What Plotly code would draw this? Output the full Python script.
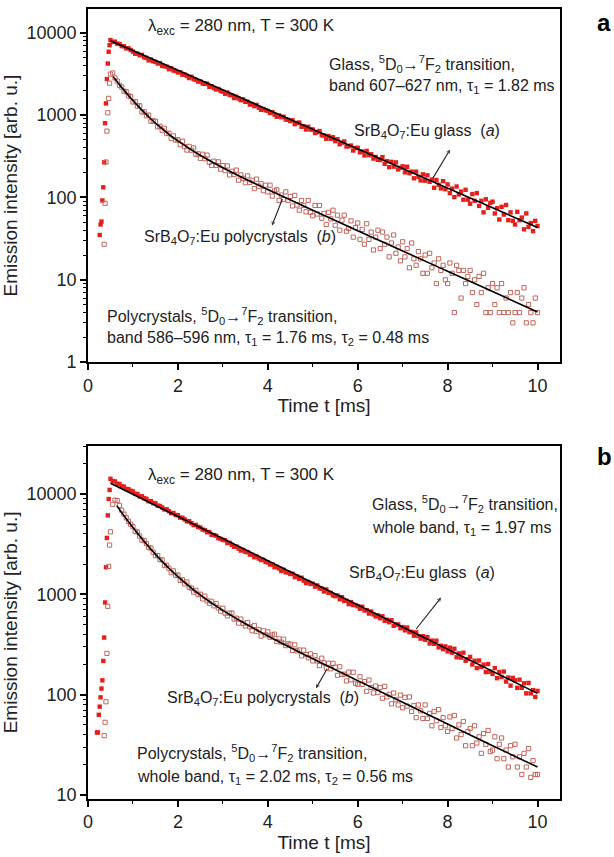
import plotly.graph_objects as go

# ---------------- data ----------------
t_ms = [0.50,0.55,0.60,0.65,0.70,0.75,0.80,0.85,0.90,0.95,
        1.00,1.05,1.10,1.15,1.20,1.25,1.30,1.35,1.40,1.45,
        1.50,1.55,1.60,1.65,1.70,1.75,1.80,1.85,1.90,1.95,
        2.00,2.05,2.10,2.15,2.20,2.25,2.30,2.35,2.40,2.45,
        2.50,2.55,2.60,2.65,2.70,2.75,2.80,2.85,2.90,2.95,
        3.00,3.05,3.10,3.15,3.20,3.25,3.30,3.35,3.40,3.45,
        3.50,3.55,3.60,3.65,3.70,3.75,3.80,3.85,3.90,3.95,
        4.00,4.05,4.10,4.15,4.20,4.25,4.30,4.35,4.40,4.45,
        4.50,4.55,4.60,4.65,4.70,4.75,4.80,4.85,4.90,4.95,
        5.00,5.05,5.10,5.15,5.20,5.25,5.30,5.35,5.40,5.45,
        5.50,5.55,5.60,5.65,5.70,5.75,5.80,5.85,5.90,5.95,
        6.00,6.05,6.10,6.15,6.20,6.25,6.30,6.35,6.40,6.45,
        6.50,6.55,6.60,6.65,6.70,6.75,6.80,6.85,6.90,6.95,
        7.00,7.05,7.10,7.15,7.20,7.25,7.30,7.35,7.40,7.45,
        7.50,7.55,7.60,7.65,7.70,7.75,7.80,7.85,7.90,7.95,
        8.00,8.05,8.10,8.15,8.20,8.25,8.30,8.35,8.40,8.45,
        8.50,8.55,8.60,8.65,8.70,8.75,8.80,8.85,8.90,8.95,
        9.00,9.05,9.10,9.15,9.20,9.25,9.30,9.35,9.40,9.45,
        9.50,9.55,9.60,9.65,9.70,9.75,9.80,9.85,9.90,9.95,
        10.00]

# panel a, glass (a): rising edge + decay
glass_a_rise_t = [0.26,0.28,0.30,0.32,0.34,0.36,0.38,0.40,0.42,0.44,0.46,0.48]
glass_a_rise = [35,47,51,92,133,267,800,1390,2750,4240,5900,7080]
glass_a = [8180,7730,7820,7390,7330,6920,6870,6490,6500,6200,
           5915,5580,5600,5337,5408,5050,4965,4630,4750,4525,
           4448,4239,4298,3970,3945,3878,3617,3708,3498,3439,
           3311,3322,3101,3113,2998,2825,2926,2732,2686,2559,
           2569,2421,2407,2415,2207,2239,2134,2054,2083,1965,
           1932,1820,1886,1760,1749,1614,1672,1594,1518,1555,
           1453,1458,1346,1366,1288,1333,1232,1161,1190,1146,
           1126,1062,1088,1016,957,992,946,958,885,880,
           847,867,777,804,814,723,733,670,722,668,
           670,606,621,642,570,566,517,559,516,539,
           484,510,443,464,479,417,419,428,372,398,
           402,354,362,324,368,327,335,297,311,287,
           285,309,256,276,234,271,237,267,219,230,
           239,202,236,197,206,171,206,178,161,191,
           160,186,155,165,131,163,143,129,158,126,
           144,113,128,101,136,109,118,94,124,94,
           84,110,91,113,79,91,66,95,75,86,
           89,64,74,54,77,62,81,53,66,52,
           47,67,53,57,41,64,44,49,39,52,
           45]

# panel a, polycrystals (b)
poly_a_rise_t = [0.36,0.38,0.40,0.42,0.44,0.46,0.48]
poly_a_rise = [27,85,270,640,1070,1600,2450]
poly_a = [3150,3258,2839,2594,2303,2196,1955,1925,1720,1681,
          1445,1460,1286,1302,1093,1101,984,1002,845,857,
          842,721,733,655,693,598,604,520,560,499,
          502,438,482,415,377,418,375,400,333,340,
          299,335,296,327,268,245,276,246,271,221,
          244,212,242,188,208,190,215,162,188,171,
          151,183,152,162,128,167,137,147,121,141,
          117,141,104,120,124,92,107,95,117,92,
          103,79,106,81,70,92,80,67,92,66,
          60,80,63,80,56,64,47,66,55,70,
          46,61,40,53,61,39,42,52,33,43,
          49,31,41,27,48,31,38,23,33,40,
          24,38,27,33,19,28,35,21,25,17,
          29,19,24,14,28,18,15,22,18,12,
          20,12,21,14,16,9,18,13,15,10,
          9,16,12,4,15,13,6,13,9,11,
          13,7,10,5,11,7,12,4,8,4,
          9,5,8,4,9,4,6,4,7,3,
          4,7,4,6,8,3,5,4,3,6,
          4]

# panel b, glass (a)
glass_b_rise_t = [0.20,0.22,0.24,0.26,0.28,0.30,0.32,0.34,0.36,0.38,0.40,0.42,0.44,0.46,0.48]
glass_b_rise = [42,42,63,76,94,115,139,217,371,830,1860,3650,6130,8920,11000]
glass_b = [14194,13464,13369,12680,12593,11939,11859,11241,11169,10787,
           10615,10059,9996,9470,9501,9089,8946,8472,8503,8132,
           8083,7655,7610,7348,7025,7052,6743,6445,6473,6187,
           6152,5823,5791,5590,5342,5366,5129,4901,4925,4705,
           4634,4428,4361,4165,4187,3919,3899,3841,3632,3577,
           3488,3471,3247,3265,3119,2977,2995,2860,2730,2776,
           2651,2638,2493,2483,2345,2384,2276,2196,2209,2109,
           2078,1984,1996,1866,1878,1812,1710,1759,1661,1654,
           1596,1605,1485,1510,1427,1465,1371,1294,1330,1270,
           1277,1194,1227,1148,1142,1068,1119,1036,1032,975,
           960,976,894,937,859,864,799,838,784,780,
           761,719,753,691,695,643,674,631,602,618,
           578,605,544,559,528,552,486,500,502,460,
           472,438,467,420,423,387,418,384,362,383,
           352,375,324,346,321,345,296,307,284,303,
           270,294,262,287,236,258,234,262,218,226,
           238,200,218,184,219,189,199,168,202,169,
           161,184,146,168,150,170,135,148,123,147,
           139,117,141,117,130,103,131,103,111,95,
           109]

# panel b, polycrystals (b)
poly_b_rise_t = [0.36,0.38,0.40,0.42,0.44,0.46,0.48]
poly_b_rise = [39,53,85,258,760,1900,3100]
poly_b = [4200,7900,8700,8600,7700,6900,6300,5800,5350,5000,
          4729,4253,4188,3813,3473,3432,3198,2921,2895,2625,
          2431,2440,2221,2210,1935,1952,1820,1644,1715,1541,
          1560,1376,1397,1271,1330,1179,1154,1053,1096,992,
          1004,901,959,862,815,853,768,811,732,679,
          727,650,610,648,652,567,579,517,567,514,
          484,524,475,434,490,428,446,384,434,395,
          423,374,393,401,338,360,334,357,308,321,
          319,276,314,273,279,244,278,251,233,255,
          217,245,217,195,231,207,184,206,181,205,
          188,156,190,159,160,137,168,141,167,130,
          127,151,127,135,108,140,118,104,122,105,
          118,92,121,95,101,81,104,89,79,99,
          74,94,77,95,68,78,59,79,69,58,
          79,58,65,49,68,55,71,47,59,49,
          43,60,46,62,37,50,40,54,31,43,
          46,31,49,33,38,26,41,32,44,27,
          28,38,23,32,37,23,28,19,31,24,
          32,19,24,16,26,19,29,15,22,16,
          16]

# fitted curves
fit_glass_a_t = [0.5, 2, 4, 6, 8, 10]
fit_glass_a = [8000, 3510, 1170, 390, 130, 43.3]
fit_poly_a_t = [0.56,0.6,0.7,0.8,0.9,1.0,1.2,1.4,1.6,1.8,2.0,2.3,2.6,3.0,3.5,4.0,5,6,7,8,9,10]
fit_poly_a = [2940,2756,2350,2015,1737,1505,1150,899,719,586,487,379,302,230,168,125,70,39.5,22.4,12.7,7.19,4.07]
fit_glass_b_t = [0.5, 2, 4, 6, 8, 10]
fit_glass_b = [12790, 5974, 2165, 785, 284, 103]
fit_poly_b_t = [0.64,0.7,0.8,0.9,1.0,1.2,1.4,1.6,1.8,2.0,2.3,2.6,3.0,3.5,4.0,5,6,7,8,9,10]
fit_poly_b = [7662,7024,6095,5306,4636,3580,2811,2243,1820,1500,1154,913,692,509,385,228,138,84,51,31,19]

x_ticks = [0, 2, 4, 6, 8, 10]
x_minor = [1, 3, 5, 7, 9]
ya_ticks = [1, 10, 100, 1000, 10000]
yb_ticks = [10, 100, 1000, 10000]

# ---------------- layout geometry ----------------
W, H = 614, 857
ML, MR, MT, MB = 88, 54, 7, 58
PW = W - ML - MR
PH = H - MT - MB

def px(x):
    return (x - ML) / PW

def py(y):
    return (H - MB - y) / PH

FONT = "Liberation Sans, Arial, Helvetica, sans-serif"
TXT = "#222222"
RED = "#e3201b"
PINK = "#c0675d"

fig = go.Figure()

def add_panel(xa, ya, gt, gy, pt, pyv, fgt, fgy, fpt, fpy):
    fig.add_trace(go.Scatter(x=gt, y=gy, mode="markers", xaxis=xa, yaxis=ya,
                             marker=dict(symbol="square", size=4.4, color=RED, line=dict(width=0)),
                             showlegend=False, hoverinfo="skip"))
    fig.add_trace(go.Scatter(x=pt, y=pyv, mode="markers", xaxis=xa, yaxis=ya,
                             marker=dict(symbol="square-open", size=4.2, color=PINK, line=dict(width=1, color=PINK)),
                             showlegend=False, hoverinfo="skip"))
    fig.add_trace(go.Scatter(x=fgt, y=fgy, mode="lines", xaxis=xa, yaxis=ya,
                             line=dict(color="black", width=1.6), showlegend=False, hoverinfo="skip"))
    fig.add_trace(go.Scatter(x=fpt, y=fpy, mode="lines", xaxis=xa, yaxis=ya,
                             line=dict(color="black", width=1.6, shape="spline"), showlegend=False, hoverinfo="skip"))

add_panel("x", "y", glass_a_rise_t + t_ms, glass_a_rise + glass_a,
          poly_a_rise_t + t_ms, poly_a_rise + poly_a,
          fit_glass_a_t, fit_glass_a, fit_poly_a_t, fit_poly_a)
add_panel("x2", "y2", glass_b_rise_t + t_ms, glass_b_rise + glass_b,
          poly_b_rise_t + t_ms, poly_b_rise + poly_b,
          fit_glass_b_t, fit_glass_b, fit_poly_b_t, fit_poly_b)

top_dom = [py(361), 1.0]
bot_dom = [0.0, py(445)]

def xaxis_cfg(anchor):
    return dict(anchor=anchor, domain=[0, 1], range=[0, 10.5],
                tickvals=x_ticks, ticktext=[str(v) for v in x_ticks],
                ticks="outside", ticklen=6, tickwidth=1.5, tickcolor="black",
                minor=dict(ticks="outside", ticklen=3, tickwidth=1.2, tickcolor="black", tickvals=x_minor),
                showline=True, linecolor="black", linewidth=1.6, mirror=True,
                showgrid=False, zeroline=False,
                tickfont=dict(family=FONT, size=18, color=TXT),
                title=dict(text="Time t [ms]", font=dict(family=FONT, size=19, color=TXT), standoff=4))

def minor_vals(lo, hi):
    out = []
    d = 1
    while d <= hi:
        for k in range(2, 10):
            v = k * d
            if lo < v < hi:
                out.append(v)
        d *= 10
    return out

def yaxis_cfg(anchor, dom, rng, tv):
    return dict(anchor=anchor, domain=dom, type="log", range=rng,
                tickvals=tv, ticktext=[str(v) for v in tv],
                ticks="outside", ticklen=6, tickwidth=1.5, tickcolor="black",
                minor=dict(ticks="outside", ticklen=3, tickwidth=1.2, tickcolor="black",
                           tickvals=minor_vals(10 ** rng[0], 10 ** rng[1])),
                showline=True, linecolor="black", linewidth=1.6, mirror=True,
                showgrid=False, zeroline=False,
                tickfont=dict(family=FONT, size=18, color=TXT),
                title=dict(text="Emission intensity [arb. u.]", font=dict(family=FONT, size=19, color=TXT), standoff=6))

fig.update_layout(
    width=W, height=H,
    margin=dict(l=ML, r=MR, t=MT, b=MB),
    paper_bgcolor="white", plot_bgcolor="white",
    xaxis=xaxis_cfg("y"),
    yaxis=yaxis_cfg("x", top_dom, [0, 4.29], ya_ticks),
    xaxis2=xaxis_cfg("y2"),
    yaxis2=yaxis_cfg("x2", bot_dom, [0.96, 4.48], yb_ticks),
)

def label(text, x, y, size=16, anchor="left", bold=False):
    fig.add_annotation(text=("<b>%s</b>" % text) if bold else text,
                       x=px(x), y=py(y), xref="paper", yref="paper",
                       xanchor=anchor, yanchor="middle", showarrow=False,
                       font=dict(family=FONT, size=size, color=TXT if not bold else "black"))

def pointer(x0, y0, x1, y1):
    # thin pointer: head at (x0,y0) next to the label, tail at (x1,y1) on the data
    fig.add_annotation(text="", x=px(x0), y=py(y0), xref="paper", yref="paper",
                       ax=x1 - x0, ay=y1 - y0, axref="pixel", ayref="pixel",
                       showarrow=True, arrowhead=5, arrowsize=0.6, arrowwidth=1.1,
                       arrowcolor="#222222")

trans = "<sup>5</sup>D<sub>0</sub>→<sup>7</sup>F<sub>2</sub> transition,"

# panel a
label("λ<sub>exc</sub> = 280 nm, T = 300 K", 146, 25, size=17)
label("Glass, " + trans, 327, 62)
label("band 607–627 nm, τ<sub>1</sub> = 1.82 ms", 327, 85)
label("SrB<sub>4</sub>O<sub>7</sub>:Eu glass  (<i>a</i>)", 352, 130)
label("SrB<sub>4</sub>O<sub>7</sub>:Eu polycrystals  (<i>b</i>)", 142, 236)
label("Polycrystals, " + trans, 105, 315)
label("band 586–596 nm, τ<sub>1</sub> = 1.76 ms, τ<sub>2</sub> = 0.48 ms", 105, 337)
label("a", 604, 21, size=24, anchor="center", bold=True)
pointer(450, 148, 432, 178)
pointer(272, 224, 283, 196)

# panel b
label("λ<sub>exc</sub> = 280 nm, T = 300 K", 146, 475, size=17)
label("Glass, " + trans, 370, 503)
label("whole band, τ<sub>1</sub> = 1.97 ms", 370, 528)
label("SrB<sub>4</sub>O<sub>7</sub>:Eu glass  (<i>a</i>)", 347, 573)
label("SrB<sub>4</sub>O<sub>7</sub>:Eu polycrystals  (<i>b</i>)", 165, 698)
label("Polycrystals, " + trans, 135, 753)
label("whole band, τ<sub>1</sub> = 2.02 ms, τ<sub>2</sub> = 0.56 ms", 135, 777)
label("b", 604, 456, size=24, anchor="center", bold=True)
pointer(441, 597, 415, 630)
pointer(316, 688, 328, 667)

fig.write_html("out.html")
